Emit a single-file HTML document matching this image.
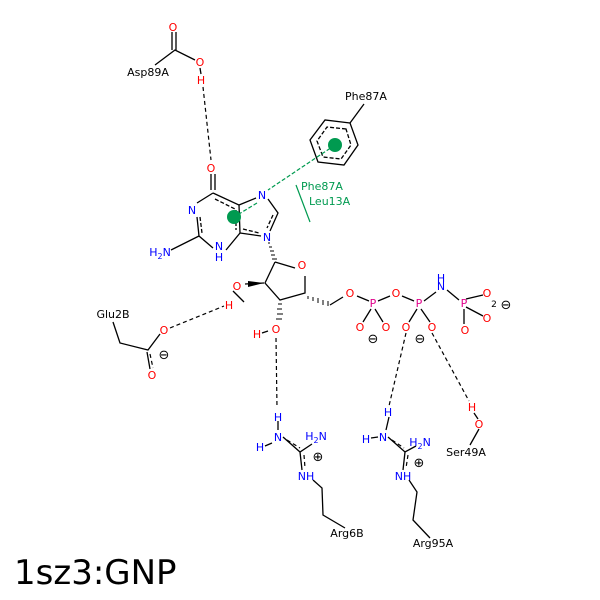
<!DOCTYPE html>
<html><head><style>body{margin:0;background:#fff}svg{display:block}</style></head><body>
<svg width="600" height="600" viewBox="0 0 600 600" xmlns="http://www.w3.org/2000/svg" font-family="DejaVu Sans, Liberation Sans, sans-serif" font-size="11">
<rect width="600" height="600" fill="#fff"/>
<g stroke="#000" stroke-width="1.3" fill="none">
<path d="M155 65 L175 50 L195 60"/><path d="M172 32 L172 50 M176 32 L176 50"/>
<path d="M200 68 L201 74"/>
<path d="M350 123 L325 120 L310 140 L318 162 L344 165 L358 145 Z"/>
<path d="M350 123 L364 104"/>
<path d="M346 129 L327 127 L317 141 L323 157 L341 159 L351 145 Z" stroke-dasharray="4,2"/>
<path d="M211 174 L211 190 M215 174 L215 190"/>
<path d="M213 193 L197 203 M197 217 L199 236 L213 248 M226 250 L240 233 L239 205 L213 193 M239 205 L256 198 M268 199 L278 213 L270 231 M261 236 L240 233"/>
<path d="M200 217 L202 233 M215 199 L235 209 M243 229 L259 233 M273 215 L267 228 M236 210 L236 230" stroke-dasharray="4,2"/>
<path d="M199 236 L171 250"/>
<path d="M275 262 L295 268 M305 276 L305 293 L280 300 L265 283 L275 262"/>
<path d="M330 305 L343 297"/>
<path d="M357 296 L369 301 M378 301 L390 296 M402 296 L414 301 M424 301 L436 292 M447 290 L459 300"/>
<path d="M245 284 L264 283"/>
<path d="M244 302 L233 291"/>
<path d="M262 333 L268 331"/>
<path d="M371 309 L363 322 M375 309 L383 322 M417 309 L409 322 M421 309 L430 322 M466 299 L483 295 M466 307 L483 316 M464 309 L464 324"/>
<path d="M113 322 L120 343 L148 350 L160 334 M147 352 L150 369"/>
<path d="M283 437 L300 452 L312 444 M300 452 L302 470 M265 446 L272 443 M278 421 L278 430 M313 480 L322 488 L323 515 L345 528"/>
<path d="M388 437 L405 452 L416 446 M405 452 L403 470 M371 438 L378 437 M389 417 L386 430 M409 480 L417 492 L413 520 L430 538"/>
<path d="M474 413 L478 419 M479 429 L470 445"/>
</g>
<polygon points="264,283 248,281 248,287" fill="#000"/>
<g stroke="#000" stroke-width="1">
<path d="M268 243 l2 0 M269 247 l3 0 M270 251 l4 0 M271 255 l4 0 M272 259 l5 0"/>
<path d="M308 296 l0 3 M313 297 l0 4 M318 298 l0 5 M323 300 l0 5 M328 301 l0 5"/>
<path d="M278 304 l4 0 M277 309 l5 0 M277 314 l6 0 M276 319 l6 0"/>
</g>
<g stroke="#000" stroke-width="1.2" stroke-dasharray="4,3" fill="none">
<path d="M203 87 L211 160"/>
<path d="M170 328 L224 306"/>
<path d="M276 338 L277 408"/>
<path d="M406 333 L389 406"/>
<path d="M432 333 L469 401"/>
<path d="M150 354 L153 368"/>
<path d="M287 440 L300 448 M304 455 L305 468 M392 440 L404 448 M408 455 L406 468"/>
</g>
<g stroke="#009a50" fill="none" stroke-width="1.2">
<path d="M335 145 L268 190 M257 203 L234 217" stroke-dasharray="4,2"/>
<path d="M296 185 L310 222"/>
</g>
<circle cx="335" cy="145" r="7" fill="#009a50"/>
<circle cx="234" cy="217" r="7" fill="#009a50"/>
<g fill="#009a50"><text x="301" y="190">Phe87A</text><text x="309" y="205">Leu13A</text></g>
<g fill="#000" text-anchor="middle">
<text x="148" y="76">Asp89A</text><text x="366" y="100">Phe87A</text><text x="113" y="318">Glu2B</text>
<text x="347" y="537">Arg6B</text><text x="433" y="547">Arg95A</text><text x="466" y="456">Ser49A</text>
<text x="373" y="343" font-size="13">⊖</text><text x="420" y="343" font-size="13">⊖</text><text x="164" y="359" font-size="13">⊖</text>
<text x="506" y="309" font-size="13">⊖</text><text x="494" y="307" font-size="9">2</text>
<text x="318" y="461" font-size="13">⊕</text><text x="419" y="467" font-size="13">⊕</text>
</g>
<g fill="#f00" text-anchor="middle">
<text x="173" y="31">O</text><text x="200" y="66">O</text><text x="201" y="84">H</text>
<text x="211" y="172">O</text><text x="302" y="269">O</text><text x="237" y="290">O</text><text x="229" y="309">H</text>
<text x="276" y="333">O</text><text x="257" y="338">H</text><text x="350" y="297">O</text><text x="396" y="297">O</text>
<text x="360" y="331">O</text><text x="386" y="331">O</text><text x="406" y="331">O</text><text x="432" y="331">O</text>
<text x="487" y="297">O</text><text x="487" y="322">O</text><text x="465" y="334">O</text>
<text x="164" y="334">O</text><text x="152" y="379">O</text><text x="472" y="411">H</text><text x="479" y="428">O</text>
</g>
<g fill="#e0008a" text-anchor="middle"><text x="373" y="307">P</text><text x="419" y="307">P</text><text x="464" y="307">P</text></g>
<g fill="#00f" text-anchor="middle">
<text x="192" y="214">N</text><text x="262" y="199">N</text><text x="267" y="241">N</text>
<text x="219" y="250">N</text><text x="219" y="261">H</text><text x="160" y="256">H<tspan font-size="8" dy="3">2</tspan><tspan dy="-3">N</tspan></text>
<text x="441" y="290">N</text><text x="441" y="282">H</text>
<text x="278" y="421">H</text><text x="278" y="441">N</text><text x="260" y="451">H</text><text x="316" y="440">H<tspan font-size="8" dy="3">2</tspan><tspan dy="-3">N</tspan></text><text x="306" y="480">NH</text>
<text x="388" y="416">H</text><text x="383" y="441">N</text><text x="366" y="443">H</text><text x="420" y="446">H<tspan font-size="8" dy="3">2</tspan><tspan dy="-3">N</tspan></text><text x="403" y="480">NH</text>
</g>
<text x="14" y="584" font-size="34" fill="#000">1sz3:GNP</text>
</svg>
</body></html>
